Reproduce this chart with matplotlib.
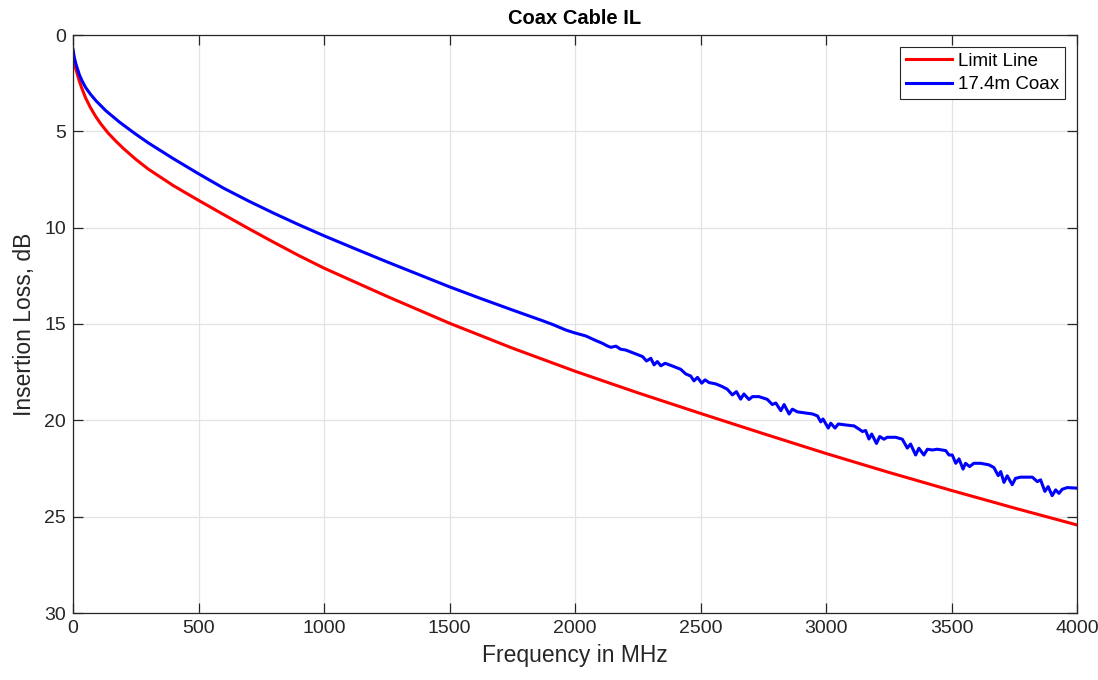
import matplotlib
matplotlib.use("Agg")
import matplotlib.pyplot as plt

# ---- data ----
limit_freq = [0, 5, 12, 25, 35, 50, 70, 90, 110, 140, 170, 200, 250, 300, 400, 500,
              600, 700, 800, 900, 1000, 1250, 1500, 1750, 2000, 2250, 2500, 2750,
              3000, 3250, 3500, 3750, 4000]
limit_il = [1.12, 1.45, 1.8, 2.38, 2.76, 3.26, 3.78, 4.22, 4.6, 5.09, 5.5, 5.88, 6.45,
            6.96, 7.82, 8.58, 9.32, 10.05, 10.76, 11.45, 12.1, 13.56, 14.96, 16.25,
            17.45, 18.57, 19.64, 20.69, 21.72, 22.70, 23.64, 24.55, 25.43]

coax_freq = [0, 5, 12, 25, 35, 50, 70, 92, 130, 185, 245, 300, 400, 500, 600, 700,
             800, 900, 1000, 1125, 1250, 1375, 1500, 1625, 1750, 1875, 1910,
             1937, 1963, 1996, 2043, 2083, 2109, 2129, 2143, 2163, 2182, 2202, 2242,
             2269, 2285, 2302, 2315, 2328, 2342, 2359, 2388, 2421, 2441, 2461, 2474,
             2488, 2505, 2518, 2534, 2561, 2587, 2607, 2627, 2643, 2660, 2673, 2693,
             2707, 2733, 2766, 2786, 2800, 2820, 2833, 2853, 2866, 2886,
             2946, 2966, 2979, 2988, 3009, 3019, 3036, 3049, 3078, 3112, 3132, 3145,
             3158, 3171, 3182, 3201, 3214, 3231, 3244, 3278, 3304, 3324, 3337, 3357,
             3370, 3390, 3404, 3424, 3443, 3477, 3490, 3503, 3517, 3530, 3546, 3556,
             3572, 3589, 3616, 3649, 3669, 3686, 3696, 3709, 3722, 3742, 3755, 3775,
             3822, 3842, 3855, 3872, 3885, 3901, 3915, 3928, 3941, 3961, 4000]
coax_il = [0.74, 1.15, 1.52, 2.05, 2.35, 2.72, 3.08, 3.42, 3.92, 4.52, 5.1, 5.6, 6.42,
           7.2, 7.95, 8.62, 9.25, 9.85, 10.42, 11.1, 11.77, 12.42, 13.07, 13.68, 14.27,
           14.85, 15.02,
           15.17, 15.31, 15.45, 15.62, 15.86, 16.0, 16.14, 16.21, 16.15, 16.31, 16.35, 16.55,
           16.69, 16.92, 16.78, 17.12, 16.95, 17.17, 17.04, 17.18, 17.35, 17.59, 17.70, 17.95,
           17.77, 18.07, 17.90, 18.04, 18.11, 18.25, 18.39, 18.68, 18.51, 18.90, 18.63, 18.92,
           18.77, 18.77, 18.91, 19.18, 19.10, 19.50, 19.18, 19.67, 19.42, 19.56,
           19.67, 19.77, 20.08, 19.93, 20.40, 20.15, 20.40, 20.19, 20.24, 20.29, 20.46, 20.58,
           20.53, 20.97, 20.71, 21.20, 20.84, 20.98, 20.88, 20.88, 20.98, 21.44, 21.23, 21.80,
           21.45, 21.80, 21.50, 21.54, 21.50, 21.57, 21.80, 21.80, 22.23, 22.00, 22.53, 22.23,
           22.40, 22.23, 22.23, 22.31, 22.45, 22.87, 22.66, 23.22, 22.88, 23.34, 23.01, 22.95,
           22.95, 23.18, 23.09, 23.69, 23.44, 23.91, 23.61, 23.79, 23.58, 23.49, 23.52]

x_ticks = [0, 500, 1000, 1500, 2000, 2500, 3000, 3500, 4000]
y_ticks = [0, 5, 10, 15, 20, 25, 30]

title = "Coax Cable IL"
x_label = "Frequency in MHz"
y_label = "Insertion Loss, dB"
labels = ["Limit Line", "17.4m Coax"]

# ---- plot ----
plt.rcParams['font.family'] = ['Liberation Sans', 'DejaVu Sans']
dark = '#262626'

fig = plt.figure(figsize=(10.98, 6.8), dpi=100)
ax = fig.add_axes([73/1098, 1-613/680, (1077-73)/1098, (613-35)/680])

ax.plot(limit_freq, limit_il, color='#ff0000', lw=2.2, label=labels[0])
ax.plot(coax_freq, coax_il, color='#0000ff', lw=2.2, label=labels[1])

ax.set_xlim(0, 4000)
ax.set_ylim(30, 0)
ax.set_xticks(x_ticks)
ax.set_yticks(y_ticks)
ax.grid(True, color='#e3e3e3', lw=0.9)
ax.set_axisbelow(True)
ax.tick_params(direction='in', top=True, right=True, length=7, width=0.9,
               labelsize=14, colors=dark, pad=5)
for s in ax.spines.values():
    s.set_color(dark)
    s.set_linewidth(0.9)

ax.set_xlabel(x_label, fontsize=16.5, color=dark, labelpad=5)
ax.set_ylabel(y_label, fontsize=16.5, color=dark, labelpad=6)
ax.set_title(title, fontsize=14.5, fontweight='bold', color='black', pad=8)

leg = ax.legend(loc='upper right', fontsize=13.5, fancybox=False, framealpha=1,
                edgecolor=dark, handlelength=2.45, borderpad=0.3, labelspacing=0.32,
                handletextpad=0.35, borderaxespad=0.65)
leg.get_frame().set_linewidth(0.8)

fig.savefig('out.png', dpi=100)
